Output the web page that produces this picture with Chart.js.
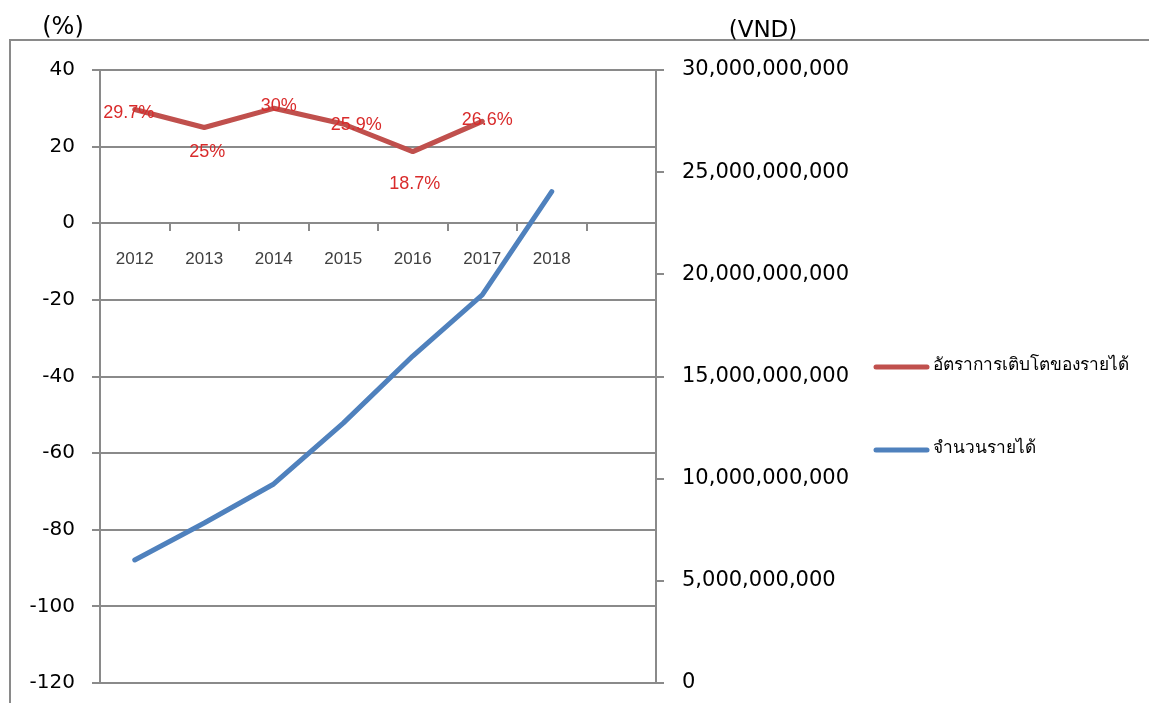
<!DOCTYPE html>
<html><head><meta charset="utf-8">
<script src="https://cdn.jsdelivr.net/npm/chart.js@4.4.0/dist/chart.umd.min.js"></script>
<style>html,body{margin:0;padding:0;background:#fff;overflow:hidden}</style>
</head><body>
<canvas id="c" width="1149" height="703"></canvas>
<script>
const categories = ['2012','2013','2014','2015','2016','2017','2018',''];
const growthRate = [29.7, 25, 30, 25.9, 18.7, 26.6, null, null];
const revenue = [6.02e9, 7.83e9, 9.74e9, 12.72e9, 16.0e9, 18.99e9, 24.05e9, null];
const growthLabels = ['29.7%','25%','30%','25.9%','18.7%','26.6%'];
const seriesNames = ['อัตราการเติบโตของรายได้','จำนวนรายได้'];
const leftAxis = {min:-120, max:40, step:20, title:'(%)'};
const rightAxis = {min:0, max:30e9, step:5e9, title:'(VND)'};

const GRID = '#8a8a8a';
const RED = '#c0504d', BLUE = '#4f81bd';

const decor = {
  id:'decor',
  beforeDraw(chart){
    const ctx = chart.ctx;
    ctx.save();
    ctx.strokeStyle = GRID; ctx.lineWidth = 2;
    ctx.beginPath(); ctx.moveTo(10,704); ctx.lineTo(10,40); ctx.lineTo(1150,40); ctx.stroke();
    ctx.restore();
  },
  afterDraw(chart){
    const ctx = chart.ctx;
    ctx.save();
    ctx.fillStyle = '#000';
    ctx.textAlign = 'center'; ctx.textBaseline = 'middle';
    ctx.font = '24px "DejaVu Sans"';
    ctx.fillText(leftAxis.title, 63, 28);
    ctx.font = '23px "DejaVu Sans"';
    ctx.fillText(rightAxis.title, 763, 31);
    // legend
    const items = [{c:RED, y:367}, {c:BLUE, y:450}];
    ctx.font = '20px "Noto Sans", "DejaVu Sans", sans-serif';
    const w0 = ctx.measureText(seriesNames[0]).width;
    const fs = Math.min(20, 20 * 200 / w0);
    items.forEach((it, i) => {
      ctx.strokeStyle = it.c; ctx.lineWidth = 5; ctx.lineCap = 'round';
      ctx.beginPath(); ctx.moveTo(876, it.y); ctx.lineTo(927, it.y); ctx.stroke();
      ctx.fillStyle = '#000'; ctx.textAlign = 'left'; ctx.textBaseline = 'middle';
      ctx.font = fs.toFixed(1) + 'px "Noto Sans", "DejaVu Sans", sans-serif';
      ctx.fillText(seriesNames[i], 933, it.y - 2);
    });
    ctx.restore();
  }
};

const labelOffsets = [[-6,4],[3,25],[5,-2],[13,1],[2,32],[5,-1]];
const dataLabels = {
  id:'dataLabels',
  afterDatasetsDraw(chart){
    const ctx = chart.ctx;
    const meta = chart.getDatasetMeta(0);
    ctx.save();
    ctx.font = '18px "Liberation Sans", Arial, sans-serif';
    ctx.fillStyle = '#d92b2b';
    ctx.textAlign = 'center'; ctx.textBaseline = 'middle';
    growthLabels.forEach((t, i) => {
      const el = meta.data[i];
      if (!el) return;
      const o = labelOffsets[i] || [0,0];
      ctx.fillText(t, el.x + o[0], el.y + o[1]);
    });
    ctx.restore();
  }
};

function noPad(s){ s.paddingTop = 0; s.paddingBottom = 0; s.paddingLeft = 0; s.paddingRight = 0; }

new Chart(document.getElementById('c'), {
  type:'line',
  data:{
    labels: categories,
    datasets:[
      {label: seriesNames[0], data: growthRate, yAxisID:'y', borderColor: RED, backgroundColor: RED,
       borderWidth:5, pointRadius:0, borderCapStyle:'round', borderJoinStyle:'round', tension:0},
      {label: seriesNames[1], data: revenue, yAxisID:'y1', borderColor: BLUE, backgroundColor: BLUE,
       borderWidth:5, pointRadius:0, borderCapStyle:'round', borderJoinStyle:'round', tension:0}
    ]
  },
  options:{
    responsive:false, animation:false, maintainAspectRatio:false,
    layout:{padding:{top:70, bottom:20, left:0, right:0}},
    plugins:{legend:{display:false}, tooltip:{enabled:false}},
    scales:{
      x:{
        type:'category', position:{y:0}, offset:true,
        grid:{display:true, drawOnChartArea:false, drawTicks:true, tickLength:8, color:GRID, lineWidth:2, offset:true},
        border:{display:false},
        ticks:{font:{family:'"Liberation Sans", Arial', size:17}, color:'#404040', padding:18, maxRotation:0, autoSkip:false},
        afterFit(s){ noPad(s); }
      },
      y:{
        position:'left', min:leftAxis.min, max:leftAxis.max,
        ticks:{stepSize:leftAxis.step, font:{family:'"DejaVu Sans"', size:20}, color:'#000', padding:17},
        grid:{color:GRID, lineWidth:2, tickLength:8},
        border:{color:GRID, width:2},
        afterFit(s){ s.width = 100; noPad(s); }
      },
      y1:{
        position:'right', min:rightAxis.min, max:rightAxis.max,
        ticks:{stepSize:rightAxis.step, font:{family:'"DejaVu Sans"', size:21}, color:'#000', padding:18,
          callback:v => Number(v).toLocaleString('en-US')},
        grid:{drawOnChartArea:false, color:GRID, lineWidth:2, tickLength:8},
        border:{color:GRID, width:2},
        afterFit(s){ s.width = 493; noPad(s); }
      }
    }
  },
  plugins:[decor, dataLabels]
});
</script>
</body></html>
